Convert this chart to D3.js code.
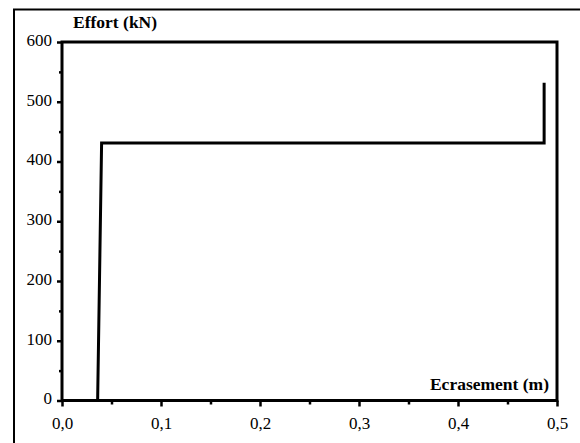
<!DOCTYPE html>
<html><head><meta charset="utf-8">
<script src="https://cdn.jsdelivr.net/npm/d3@7"></script>
<style>body{margin:0;background:#fff}svg{display:block}</style>
</head><body>
<script>
const ecrasement = [0.036, 0.040, 0.487, 0.487];
const effort = [0, 431, 431, 532];
const xTicks = [0, 0.1, 0.2, 0.3, 0.4, 0.5];
const xTickLabels = ["0,0", "0,1", "0,2", "0,3", "0,4", "0,5"];
const xMinor = [0.05, 0.15, 0.25, 0.35, 0.45];
const yTicks = [0, 100, 200, 300, 400, 500, 600];
const yMinor = [50, 150, 250, 350, 450, 550];

const W = 580, H = 443;
const svg = d3.select("body").append("svg").attr("width", W).attr("height", H);
const x = d3.scaleLinear().domain([0, 0.5]).range([62, 557]);
const y = d3.scaleLinear().domain([0, 600]).range([400.5, 42]);
const font = "'Liberation Serif', 'DejaVu Serif', serif";

// outer frame (top + left)
svg.append("path").attr("d", "M14,443 L14,9.5 L580,9.5").attr("fill", "none").attr("stroke", "#000").attr("stroke-width", 2);

// plot box
svg.append("rect").attr("x", x(0)).attr("y", y(600)).attr("width", x(0.5) - x(0)).attr("height", y(0) - y(600))
  .attr("fill", "none").attr("stroke", "#000").attr("stroke-width", 3);

// x axis
const xAxis = d3.axisBottom(x).tickValues(xTicks).tickSize(6).tickFormat((d, i) => xTickLabels[i]);
const gx = svg.append("g").attr("transform", `translate(0,${y(0)})`).call(xAxis);
gx.select(".domain").remove();
gx.selectAll(".tick line").attr("stroke-width", 2.5);
gx.selectAll(".tick text").attr("font-family", font).attr("font-size", 17).attr("y", 13).attr("dy", "0.9em").attr("fill", "#000");
const gxm = svg.append("g").attr("transform", `translate(0,${y(0)})`).call(d3.axisBottom(x).tickValues(xMinor).tickSize(4).tickFormat(""));
gxm.select(".domain").remove();
gxm.selectAll(".tick line").attr("stroke-width", 2.5);

// y axis
const yAxis = d3.axisLeft(y).tickValues(yTicks).tickSize(5);
const gy = svg.append("g").attr("transform", `translate(${x(0)},0)`).call(yAxis);
gy.select(".domain").remove();
gy.selectAll(".tick line").attr("stroke-width", 2.5);
gy.selectAll(".tick text").attr("font-family", font).attr("font-size", 17).attr("x", -10).attr("dy", "0.2em").attr("fill", "#000");
const gym = svg.append("g").attr("transform", `translate(${x(0)},0)`).call(d3.axisLeft(y).tickValues(yMinor).tickSize(3).tickFormat(""));
gym.select(".domain").remove();
gym.selectAll(".tick line").attr("stroke-width", 2.5);

// data line
const line = d3.line().x((d, i) => x(ecrasement[i])).y(d => y(d));
svg.append("path").datum(effort).attr("d", line).attr("fill", "none").attr("stroke", "#000").attr("stroke-width", 3);

// axis titles
svg.append("text").attr("x", 73).attr("y", 28).attr("font-family", font).attr("font-weight", "bold").attr("font-size", 17.5).text("Effort (kN)");
svg.append("text").attr("x", 549).attr("y", 390).attr("text-anchor", "end").attr("font-family", font).attr("font-weight", "bold").attr("font-size", 17.5).text("Ecrasement (m)");
</script>
</body></html>
